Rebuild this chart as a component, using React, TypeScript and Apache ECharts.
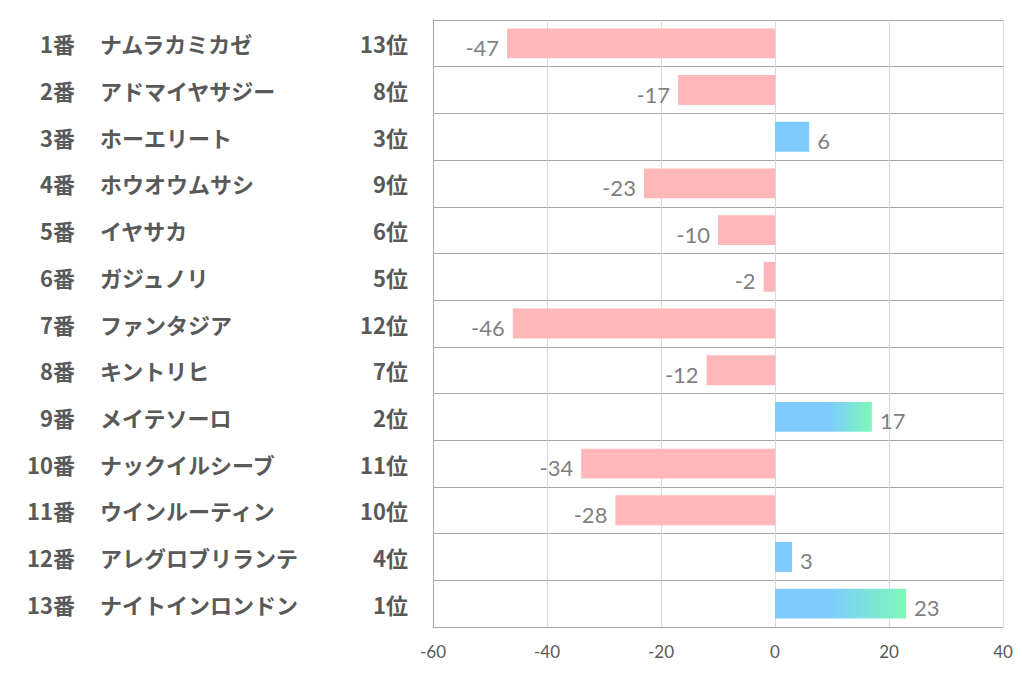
import React, { useEffect, useRef } from "react";
import * as echarts from "echarts";

const numbers = ["1番", "2番", "3番", "4番", "5番", "6番", "7番", "8番", "9番", "10番", "11番", "12番", "13番"];
const names = [
  "ナムラカミカゼ", "アドマイヤサジー", "ホーエリート", "ホウオウムサシ", "イヤサカ", "ガジュノリ",
  "ファンタジア", "キントリヒ", "メイテソーロ", "ナックイルシーブ", "ウインルーティン", "アレグロブリランテ", "ナイトインロンドン",
];
const ranks = ["13位", "8位", "3位", "9位", "6位", "5位", "12位", "7位", "2位", "11位", "10位", "4位", "1位"];
const values = [-47, -17, 6, -23, -10, -2, -46, -12, 17, -34, -28, 3, 23];

const PINK = "#FFB7BA";
const BLUE = "#7DCBFF";
const GREEN = "#7EF8B8";

export default function App() {
  const ref = useRef<HTMLDivElement>(null);
  useEffect(() => {
    if (!ref.current) return;
    const chart = echarts.init(ref.current, undefined, { renderer: "svg" });
    const labelFont = {
      fontFamily: "'Noto Sans CJK JP', 'Noto Sans', sans-serif",
      fontWeight: "bold" as const,
      fontSize: 22,
      color: "#595959",
      padding: [0, 0, 5, 0],
    };
    const baseY = {
      type: "category" as const,
      inverse: true,
      position: "left" as const,
      axisTick: { show: false },
      axisLine: { show: false },
      splitLine: { show: false },
    };
    const data = values.map((v) => {
      let color: any = v < 0 ? PINK : BLUE;
      if (v > 10) {
        color = new echarts.graphic.LinearGradient(0, 0, 1, 0, [
          { offset: 0, color: BLUE },
          { offset: 9.5 / v, color: BLUE },
          { offset: 1, color: GREEN },
        ]);
      }
      return {
        value: v,
        itemStyle: { color },
        label: { position: v < 0 ? "left" : "right" },
      };
    });
    chart.setOption({
      animation: false,
      grid: { left: 433, right: 19, top: 20, bottom: 51, containLabel: false },
      xAxis: {
        type: "value",
        min: -60,
        max: 40,
        interval: 20,
        axisLine: { show: false },
        axisTick: { show: false },
        splitLine: { show: true, lineStyle: { color: "#D9D9D9", width: 1 } },
        axisLabel: {
          margin: 16,
          fontSize: 17,
          color: "#595959",
          fontFamily: "'Lato', 'Noto Sans', sans-serif",
        },
      },
      yAxis: [
        {
          ...baseY,
          data: ranks,
          axisLine: { show: true, onZero: false, lineStyle: { color: "#A6A6A6" } },
          splitLine: { show: true, lineStyle: { color: "#A6A6A6", width: 1 } },
          axisLabel: { ...labelFont, margin: 25, align: "right" },
        },
        {
          ...baseY,
          data: names,
          axisLabel: { ...labelFont, margin: 333, align: "left" },
        },
        {
          ...baseY,
          data: numbers,
          axisLabel: { ...labelFont, margin: 358, align: "right" },
        },
      ],
      series: [
        {
          type: "bar",
          yAxisIndex: 0,
          data,
          barCategoryGap: "36%",
          label: {
            show: true,
            distance: 8,
            offset: [0, 4],
            fontSize: 22,
            color: "#7F7F7F",
            fontFamily: "'Lato', 'Noto Sans', sans-serif",
          },
        },
      ],
    });
    return () => chart.dispose();
  }, []);
  return (
    <div
      ref={ref}
      style={{ position: "fixed", left: 0, top: 0, width: 1022, height: 678, background: "#fff" }}
    />
  );
}
